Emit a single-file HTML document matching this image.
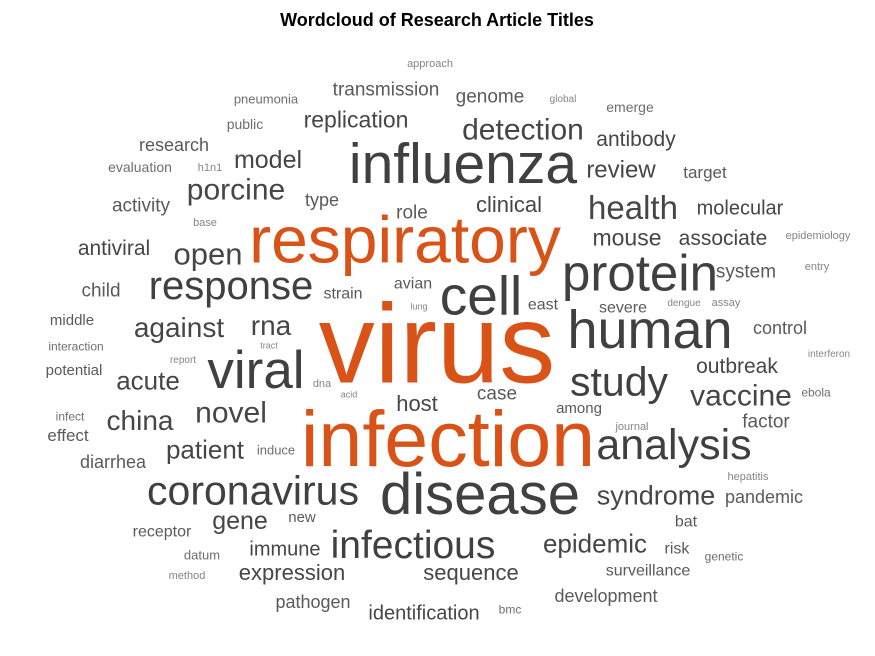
<!DOCTYPE html>
<html><head><meta charset="utf-8"><style>
html,body{margin:0;padding:0;background:#fff;}
svg{display:block;font-family:"Liberation Sans",Arial,sans-serif;}
</style></head><body>
<svg id="wc" width="875" height="656" viewBox="0 0 875 656">
<rect width="875" height="656" fill="#fff"/>
<text x="437" y="26" text-anchor="middle" font-size="18" font-weight="bold" fill="#000">Wordcloud of Research Article Titles</text>
</svg>
<script>
const words = ["approach","pneumonia","transmission","genome","global","emerge","public","replication","research","detection","antibody","evaluation","h1n1","model","influenza","review","target","porcine","activity","type","clinical","health","molecular","base","role","respiratory","open","antiviral","mouse","associate","epidemiology","protein","system","entry","child","response","avian","cell","strain","east","lung","severe","dengue","assay","middle","against","rna","human","control","interaction","tract","report","interferon","virus","potential","viral","acute","dna","acid","outbreak","study","vaccine","ebola","host","case","among","infect","novel","china","factor","journal","effect","infection","analysis","patient","induce","diarrhea","hepatitis","coronavirus","disease","syndrome","pandemic","gene","new","bat","receptor","immune","infectious","epidemic","risk","datum","genetic","method","expression","sequence","surveillance","pathogen","development","identification","bmc"];
const sizes = [11,13,19,19,10,14,14,23,18,30,21,14,11,25,57,24,17,30,19,18,22,33,20,11,19,66,31,21,23,21,11,51,19,11,19,40,16,55,16,16,9,16,10,11,15,28,28,54,18,12,9,10,10,112,15,53,26,11,9,21,41,30,12,22,19,15,12,30,28,19,11,17,79,43,26,13,18,11,41,58,27,18,25,15,16,16,20,39,26,16,13,12,11,22,22,16,18,18,20,12];
const cx = [430,266,386,490,563,630,245,356,174,523,636,140,210,268,463,621,705,236,141,322,509,633,740,205,412,405,208,114,627,723,818,640,746,817,101,231,413,481,343,543,419,623,684,726,72,179,271,650,780,76,269,183,829,437,74,256,148,322,349,737,619,741,816,417,497,579,70,231,140,766,632,68,448,674,205,276,113,748,253,480,656,764,240,302,686,162,285,413,595,677,202,724,187,292,471,648,313,606,424,510];
const cy = [63,99,89,96,98,107,124,120,145,130,139,167,167,160,166,170,172,190,205,200,205,209,208,222,212,243,255,248,238,238,235,275,271,266,290,287,283,298,293,304,306,307,302,302,320,328,326,332,328,346,345,359,353,350,370,372,381,383,394,366,383,396,392,404,393,408,416,413,421,421,426,435,443,446,450,450,462,476,492,497,496,497,521,517,521,531,549,546,544,548,555,556,575,573,573,570,602,596,613,609];
const orange = ["respiratory","virus","infection"];
const svg = document.getElementById('wc');
const NS = 'http://www.w3.org/2000/svg';
function colorFor(w, s){
  if (orange.includes(w)) return '#D95319';
  if (s >= 35) return '#404040';
  if (s >= 20) return '#464646';
  if (s >= 15) return '#5a5a5a';
  if (s >= 12) return '#6e6e6e';
  return '#858585';
}
words.forEach((w, i) => {
  const t = document.createElementNS(NS, 'text');
  
  
  t.setAttribute('x', cx[i]);
  t.setAttribute('y', cy[i] + sizes[i] * 0.28 + 1);
  t.setAttribute('text-anchor', 'middle');
  t.setAttribute('font-size', sizes[i]);
  t.setAttribute('fill', colorFor(w, sizes[i]));
  t.textContent = w;
  svg.appendChild(t);
});
</script>
</body></html>
